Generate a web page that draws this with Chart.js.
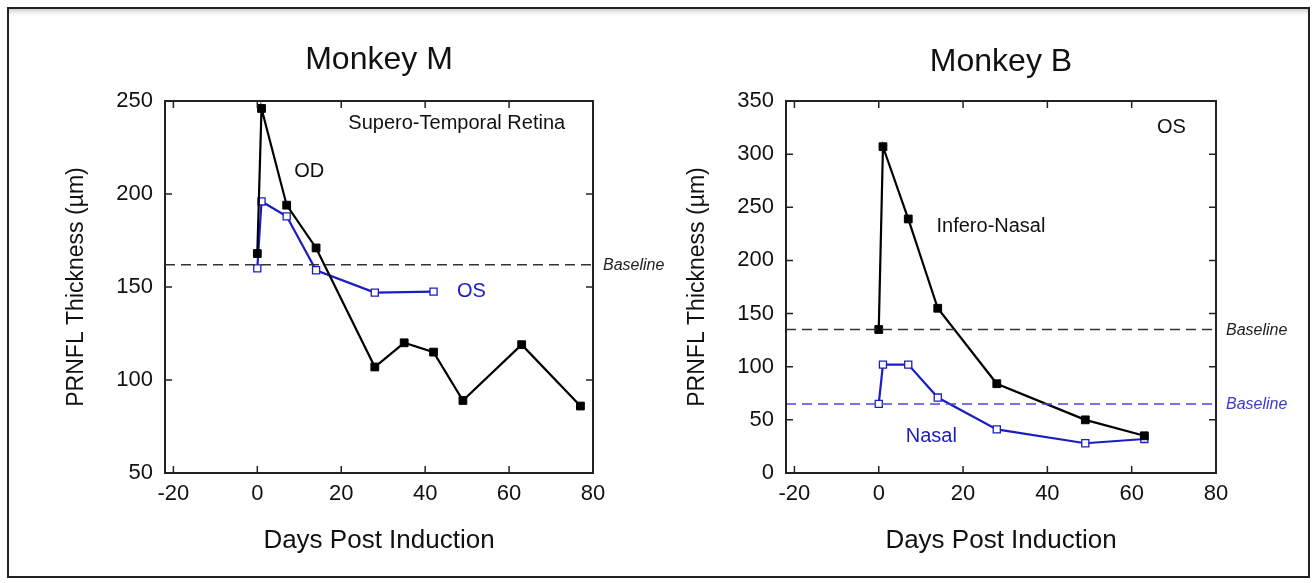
<!DOCTYPE html>
<html>
<head>
<meta charset="utf-8">
<script src="https://cdn.jsdelivr.net/npm/chart.js@4.4.1/dist/chart.umd.min.js"></script>
<style>
    html, body { margin: 0; padding: 0; background: #fff; }
    #wrap { position: relative; width: 1315px; height: 583px; overflow: hidden; }
    #frame {
        position: absolute; left: 7px; top: 7px; width: 1299px; height: 567px;
        border: 2px solid #222;
        box-shadow: inset 0 6px 6px -5px rgba(0,0,0,0.3);
        pointer-events: none;
    }
    canvas { position: absolute; top: 0; }
    #chartM { left: 0; }
    #chartB { left: 657px; }
</style>
</head>
<body>
<div id="wrap">
    <canvas id="chartM" width="700" height="583"></canvas>
    <canvas id="chartB" width="658" height="583"></canvas>
    <div id="frame"></div>
</div>
<script>
// =============================
// DATA
// =============================
const xTicks = [-20, 0, 20, 40, 60, 80];

// Monkey M
const mOdDays = [0, 1, 7, 14, 28, 35, 42, 49, 63, 77];
const mOd = [168, 246, 194, 171, 107, 120, 115, 89, 119, 86];
const mOsDays = [0, 1, 7, 14, 28, 42];
const mOs = [160, 196, 188, 159, 147, 147.5];
const mBaseline = 162;
const mYTicks = [50, 100, 150, 200, 250];

// Monkey B
const bDays = [0, 1, 7, 14, 28, 49, 63];
const bInfero = [135, 307, 239, 155, 84, 50, 35];
const bNasal = [65, 102, 102, 71, 41, 28, 32];
const bBaselineInfero = 135;
const bBaselineNasal = 65;
const bYTicks = [0, 50, 100, 150, 200, 250, 300, 350];

const BLUE = "#1c1cc4";
const FONT = "'Liberation Sans', Arial, Helvetica, sans-serif";

// =============================
// HELPERS
// =============================
function pts(xs, ys) {
    return xs.map((x, i) => ({x, y: ys[i]}));
}

function blackSeries(data) {
    return {
        data,
        showLine: true,
        borderColor: "#000",
        borderWidth: 2.2,
        pointStyle: "rect",
        pointRadius: 5.5,
        pointBackgroundColor: "#000",
        pointBorderColor: "#000",
        pointBorderWidth: 1
    };
}

function blueSeries(data) {
    return {
        data,
        showLine: true,
        borderColor: BLUE,
        borderWidth: 2.2,
        pointStyle: "rect",
        pointRadius: 5,
        pointBackgroundColor: "#fff",
        pointBorderColor: BLUE,
        pointBorderWidth: 1.3
    };
}

function baseline(value, color) {
    return {
        data: [{x: -22, y: value}, {x: 80, y: value}],
        showLine: true,
        borderColor: color,
        borderWidth: 1.5,
        borderDash: [10, 6],
        pointRadius: 0
    };
}

// frame box + inward ticks + labels
const framePlugin = {
    id: "frame",
    afterDraw(chart, args, opts) {
        const {ctx, chartArea: a, scales} = chart;
        const xs = scales.x, ys = scales.y;
        ctx.save();
        ctx.strokeStyle = "#222";
        ctx.lineWidth = 2;
        ctx.strokeRect(a.left, a.top, a.right - a.left, a.bottom - a.top);

        ctx.lineWidth = 1.5;
        ctx.beginPath();
        xs.ticks.forEach(t => {
            const px = xs.getPixelForValue(t.value);
            ctx.moveTo(px, a.bottom); ctx.lineTo(px, a.bottom - 7);
            ctx.moveTo(px, a.top); ctx.lineTo(px, a.top + 7);
        });
        ys.ticks.forEach(t => {
            const py = ys.getPixelForValue(t.value);
            ctx.moveTo(a.left, py); ctx.lineTo(a.left + 7, py);
            ctx.moveTo(a.right, py); ctx.lineTo(a.right - 7, py);
        });
        ctx.stroke();

        ctx.textBaseline = "middle";
        ctx.textAlign = "left";
        (opts.notes || []).forEach(n => {
            ctx.fillStyle = n.color || "#111";
            ctx.font = "20px " + FONT;
            ctx.fillText(n.text, xs.getPixelForValue(n.x), ys.getPixelForValue(n.y));
        });
        (opts.baselines || []).forEach(b => {
            ctx.fillStyle = b.color;
            ctx.font = "italic 16px " + FONT;
            ctx.fillText("Baseline", a.right + 10, ys.getPixelForValue(b.y) + 1);
        });
        ctx.restore();
    }
};

function makeChart(id, cfg) {
    return new Chart(document.getElementById(id), {
        type: "scatter",
        data: {datasets: cfg.datasets},
        plugins: [framePlugin],
        options: {
            responsive: false,
            animation: false,
            events: [],
            layout: {padding: {left: 0, top: 0, right: cfg.padRight, bottom: 0}},
            plugins: {
                legend: {display: false},
                tooltip: {enabled: false},
                title: {
                    display: true,
                    fullSize: false,
                    text: cfg.title,
                    color: "#111",
                    font: {family: FONT, size: 32, weight: "normal"},
                    padding: {top: cfg.titleTop, bottom: 101 - cfg.titleTop - 38.4}
                },
                frame: {notes: cfg.notes, baselines: cfg.baselineLabels}
            },
            scales: {
                x: {
                    type: "linear",
                    min: -22,
                    max: 80,
                    afterBuildTicks: s => { s.ticks = xTicks.map(v => ({value: v})); },
                    afterFit: s => { s.height = 110; },
                    grid: {display: false, drawTicks: false},
                    border: {display: false},
                    ticks: {color: "#111", padding: 8, font: {family: FONT, size: 22}},
                    title: {
                        display: true,
                        text: "Days Post Induction",
                        color: "#111",
                        font: {family: FONT, size: 26},
                        padding: {top: 0, bottom: 27}
                    }
                },
                y: {
                    type: "linear",
                    min: cfg.yTicks[0],
                    max: cfg.yTicks[cfg.yTicks.length - 1],
                    afterBuildTicks: s => { s.ticks = cfg.yTicks.map(v => ({value: v})); },
                    afterFit: s => { s.width = cfg.yWidth; },
                    grid: {display: false, drawTicks: false},
                    border: {display: false},
                    ticks: {color: "#111", padding: 12, font: {family: FONT, size: 22}},
                    title: {
                        display: true,
                        text: "PRNFL Thickness (µm)",
                        color: "#111",
                        font: {family: FONT, size: 23},
                        padding: {top: cfg.yTitlePad, bottom: 0}
                    }
                }
            }
        }
    });
}

// =============================
// MONKEY M
// =============================
makeChart("chartM", {
    title: "Monkey M",
    titleTop: 41,
    padRight: 107,
    yWidth: 165,
    yTitlePad: 63,
    yTicks: mYTicks,
    datasets: [
        baseline(mBaseline, "#333"),
        blackSeries(pts(mOdDays, mOd)),
        blueSeries(pts(mOsDays, mOs))
    ],
    notes: [
        {text: "Supero-Temporal Retina", x: 21.7, y: 238},
        {text: "OD", x: 8.8, y: 212},
        {text: "OS", x: 47.6, y: 147.6, color: BLUE}
    ],
    baselineLabels: [{y: mBaseline, color: "#222"}]
});

// =============================
// MONKEY B
// =============================
makeChart("chartB", {
    title: "Monkey B",
    titleTop: 43,
    padRight: 99,
    yWidth: 129,
    yTitlePad: 27,
    yTicks: bYTicks,
    datasets: [
        baseline(bBaselineInfero, "#333"),
        baseline(bBaselineNasal, "#4a4ad6"),
        blackSeries(pts(bDays, bInfero)),
        blueSeries(pts(bDays, bNasal))
    ],
    notes: [
        {text: "OS", x: 66, y: 325},
        {text: "Infero-Nasal", x: 13.7, y: 232},
        {text: "Nasal", x: 6.4, y: 34, color: BLUE}
    ],
    baselineLabels: [
        {y: bBaselineInfero, color: "#222"},
        {y: bBaselineNasal, color: "#3a3ad0"}
    ]
});
</script>
</body>
</html>
